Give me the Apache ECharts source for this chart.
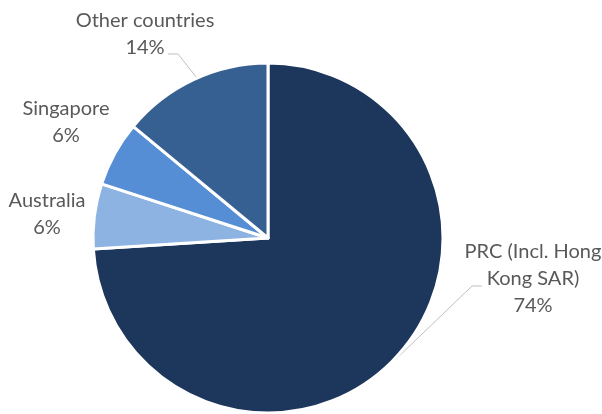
<!DOCTYPE html>
<html><head><meta charset="utf-8">
<script src="https://cdn.jsdelivr.net/npm/echarts@6/dist/echarts.min.js"></script>
<style>html,body{margin:0;padding:0;background:#fff}#c{width:602px;height:414px}</style>
</head><body><div id="c"></div>
<script>
const categories = ['PRC (Incl. Hong\nKong SAR)', 'Australia', 'Singapore', 'Other countries'];
const values = [74, 6, 6, 14];
const colors = ['#1d365c', '#8db3e2', '#558ed5', '#376092'];

const labelPos = [
  {x: 533, y: 279, line: [[395, 360], [472, 286], [482, 286]]},
  {x: 47, y: 214, line: null},
  {x: 66, y: 122, line: null},
  {x: 145, y: 34, line: [[197, 78], [178, 54], [168, 54]]}
];

const chart = echarts.init(document.getElementById('c'));
chart.setOption({
  animation: false,
  series: [{
    type: 'pie',
    center: [268, 238],
    radius: [0, 175],
    startAngle: 90,
    clockwise: true,
    data: categories.map((n, i) => ({
      name: n, value: values[i],
      itemStyle: {color: colors[i]},
      labelLine: {show: !!labelPos[i].line}
    })),
    itemStyle: {borderColor: '#fff', borderWidth: 3},
    label: {
      show: true,
      position: 'outside',
      formatter: p => p.name + '\n' + p.value + '%',
      color: '#595959',
      fontFamily: 'Lato',
      fontSize: 20,
      lineHeight: 27,
      align: 'center',
      overflow: 'none',
      width: 200
    },
    labelLine: {show: true, lineStyle: {color: '#bfbfbf', width: 1}},
    labelLayout: function (params) {
      const p = labelPos[params.dataIndex];
      const r = {x: p.x, y: p.y, align: 'center', verticalAlign: 'middle'};
      if (p.line) r.labelLinePoints = p.line;
      return r;
    }
  }]
});
</script></body></html>
